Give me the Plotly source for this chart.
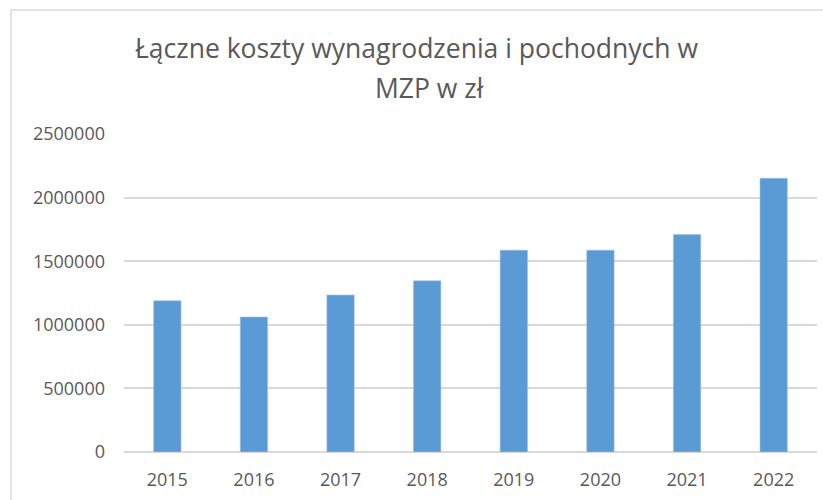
import plotly.graph_objects as go

# Annual totals (PLN)
years = ["2015", "2016", "2017", "2018", "2019", "2020", "2021", "2022"]
costs = [1189000, 1061000, 1234000, 1346000, 1587000, 1587000, 1709000, 2152000]
y_ticks = [0, 500000, 1000000, 1500000, 2000000, 2500000]
title_lines = ["Łączne koszty wynagrodzenia i pochodnych w ", "MZP w zł"]

W, H = 823, 500
L, R, T, B = 124, 6, 134, 48
pw, ph = W - L - R, H - T - B


def px_x(x):
    return (x - L) / pw


def px_y(y):
    return (H - B - y) / ph


fig = go.Figure(
    go.Bar(
        x=years,
        y=costs,
        marker=dict(color="#5B9BD5", line=dict(color="#9DC3E6", width=0.6)),
    )
)

grey = "#595959"
title_font = dict(family="Open Sans", size=26.5, color=grey)
annotations = [
    dict(text=line, xref="paper", yref="paper", x=px_x(cx), y=px_y(cy),
         xanchor="center", yanchor="middle", showarrow=False, font=title_font)
    for line, cx, cy in zip(title_lines, [420, 429], [48, 88])
]

fig.update_layout(
    width=W,
    height=H,
    margin=dict(l=L, r=R, t=T, b=B),
    paper_bgcolor="white",
    plot_bgcolor="white",
    bargap=0.684,
    showlegend=False,
    font=dict(family="Open Sans", color=grey),
    annotations=annotations,
    xaxis=dict(
        showgrid=False,
        showline=False,
        ticks="",
        ticklabelstandoff=15,
        tickfont=dict(size=18, color=grey),
    ),
    yaxis=dict(
        range=[0, 2500000],
        tickvals=y_ticks,
        ticktext=[str(v) for v in y_ticks],
        showgrid=True,
        gridcolor="#D9D9D9",
        gridwidth=1.5,
        zeroline=True,
        zerolinecolor="#D9D9D9",
        zerolinewidth=1.5,
        showline=False,
        ticks="",
        ticklabelstandoff=18,
        tickfont=dict(size=18, color=grey),
    ),
    shapes=[
        dict(
            type="rect",
            xref="paper",
            yref="paper",
            x0=px_x(11),
            x1=px_x(W + 20),
            y0=px_y(H + 20),
            y1=px_y(10),
            line=dict(color="#D9D9D9", width=1.5),
            fillcolor="rgba(0,0,0,0)",
            layer="below",
        )
    ],
)

fig.write_html("out.html")
